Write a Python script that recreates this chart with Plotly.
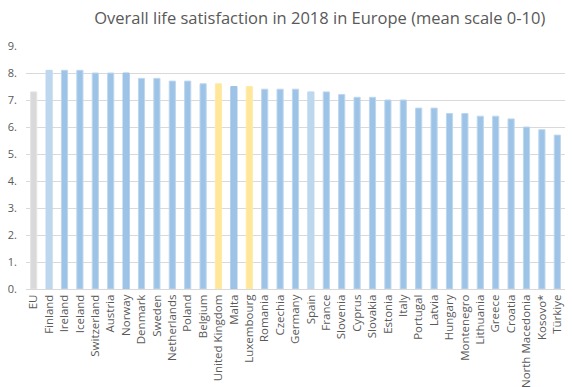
import plotly.graph_objects as go

countries = ["EU", "Finland", "Ireland", "Iceland", "Switzerland", "Austria", "Norway",
             "Denmark", "Sweden", "Netherlands", "Poland", "Belgium", "United Kingdom",
             "Malta", "Luxembourg", "Romania", "Czechia", "Germany", "Spain", "France",
             "Slovenia", "Cyprus", "Slovakia", "Estonia", "Italy", "Portugal", "Latvia",
             "Hungary", "Montenegro", "Lithuania", "Greece", "Croatia", "North Macedonia",
             "Kosovo*", "Türkiye"]
values = [7.3, 8.1, 8.1, 8.1, 8.0, 8.0, 8.0,
          7.8, 7.8, 7.7, 7.7, 7.6, 7.6,
          7.5, 7.5, 7.4, 7.4, 7.4, 7.3, 7.3,
          7.2, 7.1, 7.1, 7.0, 7.0, 6.7, 6.7,
          6.5, 6.5, 6.4, 6.4, 6.3, 6.0,
          5.9, 5.7]
yticks = [0, 1, 2, 3, 4, 5, 6, 7, 8, 9]
ytick_labels = ["0.", "1.", "2.", "3.", "4.", "5.", "6.", "7.", "8.", "9."]

grey = "#d9d9d9"
light = "#bdd7ee"
mid = "#9dc3e6"
yellow = "#ffe699"

special = {"EU": (grey, "#e4e4e4"), "Finland": (light, light), "Spain": (light, light),
           "United Kingdom": (yellow, "#ffeaa8"), "Luxembourg": (yellow, "#ffeaa8"),
           "Norway": (mid, mid), "Malta": (mid, mid)}
colors = [special.get(c, (mid, light))[0] for c in countries]
lines = [special.get(c, (mid, light))[1] for c in countries]

fig = go.Figure(go.Bar(
    x=countries, y=values,
    marker=dict(color=colors, line=dict(color=lines, width=1)),
    hoverinfo="x+y",
))

fig.update_layout(
    width=573, height=387,
    margin=dict(l=26, r=8, t=46, b=98),
    paper_bgcolor="white", plot_bgcolor="white",
    bargap=0.6,
    showlegend=False,
    title=dict(text="Overall life satisfaction in 2018 in Europe (mean scale 0-10)",
               x=0.558, xanchor="center", y=0.953, yanchor="middle",
               font=dict(family="Open Sans", size=16.5, color="#595959")),
    font=dict(family="Open Sans", color="#595959"),
)
fig.update_xaxes(tickangle=-90, tickfont=dict(size=11.5, color="#595959"),
                 showline=True, linecolor="#d9d9d9", linewidth=1,
                 ticks="", showgrid=False, automargin=False)
fig.update_yaxes(range=[0, 9], tickvals=yticks, ticktext=ytick_labels,
                 tickfont=dict(size=11, color="#595959"),
                 showgrid=True, gridcolor="#d9d9d9", gridwidth=1,
                 zeroline=False, ticks="", ticklabelstandoff=8, automargin=False)

fig.write_html("out.html", config={"displayModeBar": False},
               post_script="document.body.style.margin='0';document.body.style.padding='0';")
